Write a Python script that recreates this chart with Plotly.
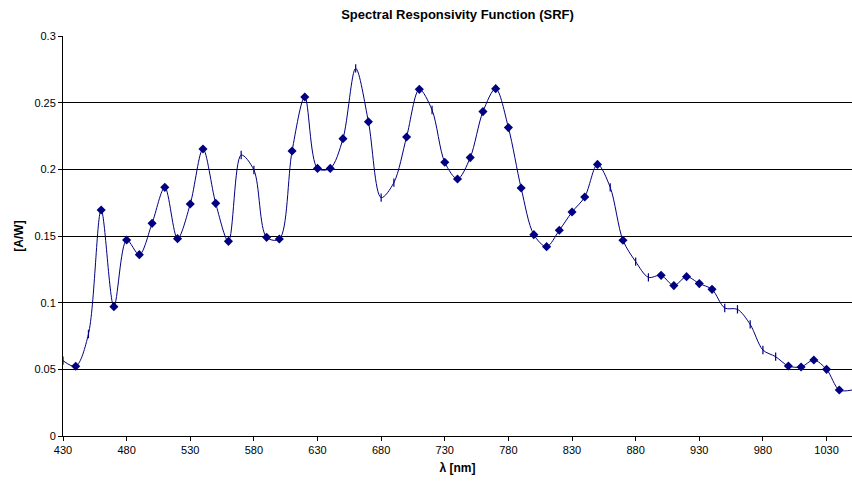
import plotly.graph_objects as go

wavelength_nm = [430, 440, 450, 460, 470, 480, 490, 500, 510, 520, 530, 540, 550, 560, 570, 580,
                 590, 600, 610, 620, 630, 640, 650, 660, 670, 680, 690, 700, 710, 720, 730, 740,
                 750, 760, 770, 780, 790, 800, 810, 820, 830, 840, 850, 860, 870, 880, 890, 900,
                 910, 920, 930, 940, 950, 960, 970, 980, 990, 1000, 1010, 1020, 1030, 1040, 1050]
responsivity = [0.0565, 0.0523, 0.0765, 0.1695, 0.097, 0.147, 0.136, 0.1595, 0.1865, 0.148, 0.174,
                0.2153, 0.1745, 0.146, 0.2107, 0.1995, 0.149, 0.1477, 0.2137, 0.2543, 0.2007, 0.2007,
                0.223, 0.2757, 0.2357, 0.1788, 0.19, 0.2243, 0.26, 0.2445, 0.2053, 0.1928, 0.2088,
                0.2433, 0.2605, 0.2313, 0.186, 0.151, 0.142, 0.1543, 0.168, 0.1793, 0.2037, 0.1865,
                0.1468, 0.1308, 0.119, 0.1205, 0.1128, 0.1195, 0.1143, 0.11, 0.096, 0.095, 0.0837,
                0.0645, 0.0595, 0.0525, 0.0518, 0.057, 0.05, 0.0345, 0.0345]
# marker style per point: "d" diamond, "t" tick, "" none
marker_kind = ["t", "d", "t", "d", "d", "d", "d", "d", "d", "d", "d",
               "d", "d", "d", "t", "t", "d", "d", "d", "d", "d", "d",
               "d", "t", "d", "t", "t", "d", "d", "t", "d", "d", "d",
               "d", "d", "d", "d", "d", "d", "d", "d", "d", "d", "t",
               "d", "t", "t", "d", "d", "d", "d", "d", "t", "t", "t",
               "t", "t", "d", "d", "d", "d", "d", ""]

x_ticks = [430, 480, 530, 580, 630, 680, 730, 780, 830, 880, 930, 980, 1030]
y_ticks = [0, 0.05, 0.1, 0.15, 0.2, 0.25, 0.3]

navy = "#000080"
dx = [x for x, k in zip(wavelength_nm, marker_kind) if k == "d"]
dy = [y for y, k in zip(responsivity, marker_kind) if k == "d"]
tx = [x for x, k in zip(wavelength_nm, marker_kind) if k == "t"]
ty = [y for y, k in zip(responsivity, marker_kind) if k == "t"]

fig = go.Figure()
fig.add_trace(go.Scatter(x=wavelength_nm, y=responsivity, mode="lines",
                         line=dict(color=navy, width=1, shape="spline", smoothing=0.9),
                         showlegend=False, hoverinfo="skip"))
fig.add_trace(go.Scatter(x=dx, y=dy, mode="markers",
                         marker=dict(symbol="diamond", size=7, color=navy),
                         showlegend=False))
fig.add_trace(go.Scatter(x=tx, y=ty, mode="markers",
                         marker=dict(symbol="line-ns", size=6, color=navy,
                                     line=dict(color=navy, width=1.2)),
                         showlegend=False))

fig.update_layout(
    width=852, height=486,
    margin=dict(l=63, r=0, t=36, b=50, autoexpand=False),
    paper_bgcolor="white", plot_bgcolor="white",
    font=dict(family="Liberation Sans, Arial, sans-serif", size=11, color="black"),
    title=dict(text="<b>Spectral Responsivity Function (SRF)</b>", x=0.5, xref="paper",
               xanchor="center", y=0.97, yanchor="middle", font=dict(size=13)),
    xaxis=dict(range=[430, 1050], tickmode="array", tickvals=x_ticks,
               ticktext=[str(v) for v in x_ticks], automargin=False,
               showgrid=False, zeroline=False, showline=True, linecolor="black", linewidth=1,
               ticks="outside", ticklen=4, tickcolor="black",
               title=dict(text="<b>λ [nm]</b>", font=dict(size=12), standoff=8)),
    yaxis=dict(range=[0, 0.3], tickmode="array", tickvals=y_ticks,
               ticktext=["0", "0.05", "0.1", "0.15", "0.2", "0.25", "0.3"], automargin=False,
               showgrid=True, gridcolor="black", gridwidth=1, zeroline=False,
               showline=True, linecolor="black", linewidth=1,
               ticks="outside", ticklen=4, tickcolor="black",
               title=dict(text="<b>[A/W]</b>", font=dict(size=12), standoff=8)),
)

fig.write_html("out.html", config={"displayModeBar": False},
               post_script="document.body.style.margin='0';document.body.style.overflow='hidden';")
